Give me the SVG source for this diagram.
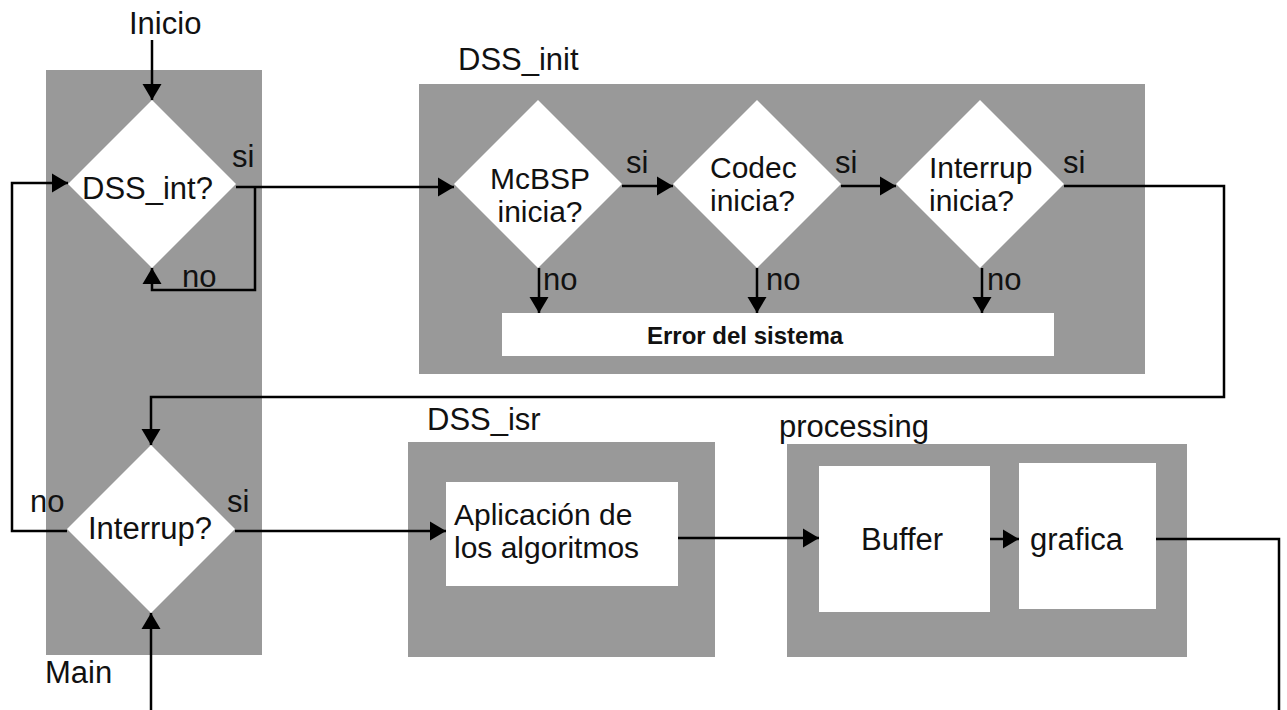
<svg xmlns="http://www.w3.org/2000/svg" width="1287" height="710" viewBox="0 0 1287 710">
  <style>
    .panel { fill: #999999; }
    .box { fill: #ffffff; }
    .t { font-family: "Liberation Sans", Arial, sans-serif; font-size: 31px; fill: #111111; }
    .t2 { font-family: "Liberation Sans", Arial, sans-serif; font-size: 30px; fill: #111111; }
    .err { font-family: "Liberation Sans", Arial, sans-serif; font-size: 24px; font-weight: bold; fill: #111111; }
    .wire { fill: none; stroke: #000000; stroke-width: 2.5; }
    .wire-a { fill: none; stroke: #000000; stroke-width: 2.5; marker-end: url(#arrow); }
  </style>
  <defs>
    <marker id="arrow" markerUnits="userSpaceOnUse" markerWidth="18" markerHeight="20" refX="16" refY="10" orient="auto">
      <path d="M0,0.5 L16,10 L0,19.5 Z" fill="#000000"/>
    </marker>
  </defs>
  <rect width="1287" height="710" fill="#ffffff"/>

  <!-- Main panel -->
  <g id="main">
    <rect class="panel" x="46" y="70" width="216" height="585"/>
    <text class="t" x="45" y="683">Main</text>
  </g>
  <g id="dss-int">
    <polygon class="box" points="152,100 236,184 152,268 68,184"/>
    <text class="t" x="82" y="199">DSS_int?</text>
  </g>
  <g id="interrup">
    <polygon class="box" points="151,445 235,529 151,613 67,529"/>
    <text class="t" x="88" y="539">Interrup?</text>
  </g>

  <!-- DSS_init panel -->
  <g id="dss-init">
    <rect class="panel" x="419" y="84" width="726" height="290"/>
    <text class="t" x="458" y="70">DSS_init</text>
  </g>
  <g id="mcbsp">
    <polygon class="box" points="538,100 622,184 538,268 454,184"/>
    <text class="t2" x="540" y="189" text-anchor="middle">McBSP</text>
    <text class="t2" x="540" y="222" text-anchor="middle">inicia?</text>
  </g>
  <g id="codec">
    <polygon class="box" points="757,100 841,184 757,268 673,184"/>
    <text class="t2" x="710" y="178">Codec</text>
    <text class="t2" x="710" y="211">inicia?</text>
  </g>
  <g id="interrup-init">
    <polygon class="box" points="980,100 1064,184 980,268 896,184"/>
    <text class="t2" x="929" y="178">Interrup</text>
    <text class="t2" x="929" y="211">inicia?</text>
  </g>
  <g id="error">
    <rect class="box" x="502" y="313" width="552" height="43"/>
    <text class="err" x="647" y="344">Error del sistema</text>
  </g>

  <!-- DSS_isr panel -->
  <g id="dss-isr">
    <rect class="panel" x="408" y="442" width="307" height="215"/>
    <text class="t" x="427" y="430">DSS_isr</text>
  </g>
  <g id="algoritmos">
    <rect class="box" x="446" y="482" width="232" height="104"/>
    <text class="t2" x="454" y="525">Aplicación de</text>
    <text class="t2" x="454" y="558">los algoritmos</text>
  </g>

  <!-- processing panel -->
  <g id="processing">
    <rect class="panel" x="787" y="444" width="400" height="213"/>
    <text class="t" x="779" y="437">processing</text>
  </g>
  <g id="buffer">
    <rect class="box" x="819" y="466" width="171" height="146"/>
    <text class="t" x="861" y="550">Buffer</text>
  </g>
  <g id="grafica">
    <rect class="box" x="1019" y="463" width="137" height="146"/>
    <text class="t" x="1030" y="550">grafica</text>
  </g>

  <!-- connectors -->
  <g id="connectors">
    <text class="t" x="129" y="34">Inicio</text>
    <path class="wire-a" d="M152,40 V100"/>

    <path class="wire-a" d="M236,187 H454"/>
    <path class="wire-a" d="M255,187 V290 H152 V268"/>
    <text class="t" x="232" y="167">si</text>
    <text class="t" x="182" y="287">no</text>

    <path class="wire-a" d="M67,531 H12 V183 H68"/>
    <path class="wire-a" d="M235,531 H446"/>
    <text class="t" x="30" y="512">no</text>
    <text class="t" x="227" y="512">si</text>
    <path class="wire-a" d="M151,710 V613"/>

    <path class="wire-a" d="M622,186 H673"/>
    <path class="wire-a" d="M841,186 H896"/>
    <path class="wire-a" d="M1064,186 H1224 V397 H151 V445"/>
    <text class="t" x="626" y="173">si</text>
    <text class="t" x="835" y="173">si</text>
    <text class="t" x="1063" y="173">si</text>

    <path class="wire-a" d="M539,268 V313"/>
    <path class="wire-a" d="M757,268 V313"/>
    <path class="wire-a" d="M982,268 V313"/>
    <text class="t" x="543" y="290">no</text>
    <text class="t" x="766" y="290">no</text>
    <text class="t" x="987" y="290">no</text>

    <path class="wire-a" d="M678,538 H819"/>
    <path class="wire-a" d="M990,539 H1019"/>
    <path class="wire" d="M1156,539 H1279 V710"/>
  </g>
</svg>
